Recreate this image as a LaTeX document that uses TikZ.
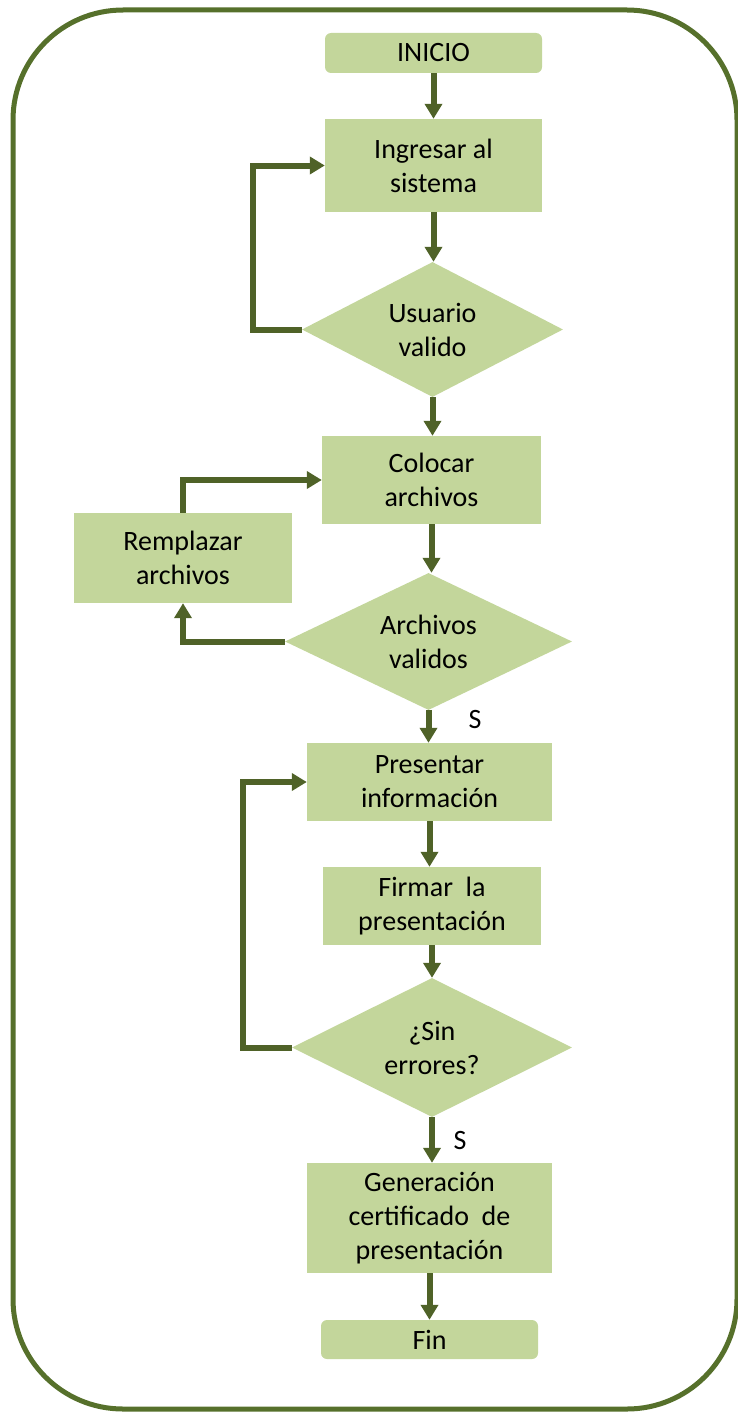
\documentclass[tikz,border=0pt]{standalone}
\usepackage{fontspec}
\setmainfont{Carlito}
\usetikzlibrary{shapes.geometric,arrows.meta}
\definecolor{boxfill}{HTML}{C3D69B}
\definecolor{arrowc}{HTML}{4F6228}
\definecolor{framec}{HTML}{56702B}
\tikzset{
  txt/.style={font=\fontsize{28}{34}\selectfont, text=black, align=center, inner sep=0pt},
  stepbox/.style={txt, fill=boxfill, draw=none, rectangle},
  termbox/.style={stepbox, rounded corners=6pt},
  decbox/.style={txt, fill=boxfill, draw=none, diamond, aspect=1.95},
  conn/.style={draw=arrowc, line width=6pt, -{Triangle[width=17pt,length=15pt]}},
  loopline/.style={draw=arrowc, line width=6pt, -{Triangle[width=17pt,length=15pt]}},
}
\begin{document}
\begin{tikzpicture}[x=1pt,y=-1pt]
\useasboundingbox (0,0) rectangle (737,1413);
\draw[framec, line width=5pt, rounded corners=110pt] (13,10) rectangle (737,1409);

\node[termbox, minimum width=217pt, minimum height=40pt] (inicio) at (433.5,53) {INICIO};
\node[stepbox, minimum width=217pt, minimum height=93pt] (ingresar) at (433.5,165.5) {Ingresar al\\sistema};
\node[decbox, minimum width=261pt, minimum height=135pt] (usuario) at (432.5,329.5) {Usuario\\valido};
\node[stepbox, minimum width=219pt, minimum height=88pt] (colocar) at (431.5,480) {Colocar\\archivos};
\node[stepbox, minimum width=218pt, minimum height=90pt] (remplazar) at (183,558) {Remplazar\\archivos};
\node[decbox, minimum width=287pt, minimum height=137pt] (archivos) at (428.5,641.5) {Archivos\\validos};
\node[stepbox, minimum width=245pt, minimum height=78pt] (presentar) at (429.5,782) {Presentar\\información};
\node[stepbox, minimum width=218pt, minimum height=78pt] (firmar) at (432,906) {Firmar\ \ la\\presentación};
\node[decbox, minimum width=280pt, minimum height=139pt] (sin) at (432,1047.5) {¿Sin\\errores?};
\node[stepbox, minimum width=245pt, minimum height=110pt] (generacion) at (429.5,1218) {Generación\\certificado\ \ de\\presentación};
\node[termbox, minimum width=217pt, minimum height=39pt] (fin) at (429.5,1339.5) {Fin};

\node[txt] (s1) at (475,720) {S};
\node[txt] (s2) at (460,1140) {S};

\draw[conn] (inicio.south) -- (inicio.south |- ingresar.north);
\draw[conn] (ingresar.south) -- (ingresar.south |- usuario.north);
\draw[conn] (usuario.south) -- (usuario.south |- colocar.north);
\draw[conn] (colocar.south) -- (colocar.south |- archivos.north);
\draw[conn] (archivos.south) -- (archivos.south |- presentar.north);
\draw[conn] (presentar.south) -- (presentar.south |- firmar.north);
\draw[conn] (firmar.south) -- (firmar.south |- sin.north);
\draw[conn] (sin.south) -- (sin.south |- generacion.north);
\draw[conn] (generacion.south) -- (generacion.south |- fin.north);

\draw[loopline] (usuario.west) -- ++(-49,0) |- (ingresar.west);
\draw[loopline] (archivos.west) -| (remplazar.south);
\draw[loopline] (remplazar.north) |- (colocar.west);
\draw[loopline] (sin.west) -- ++(-49,0) |- (presentar.west);
\end{tikzpicture}
\end{document}
